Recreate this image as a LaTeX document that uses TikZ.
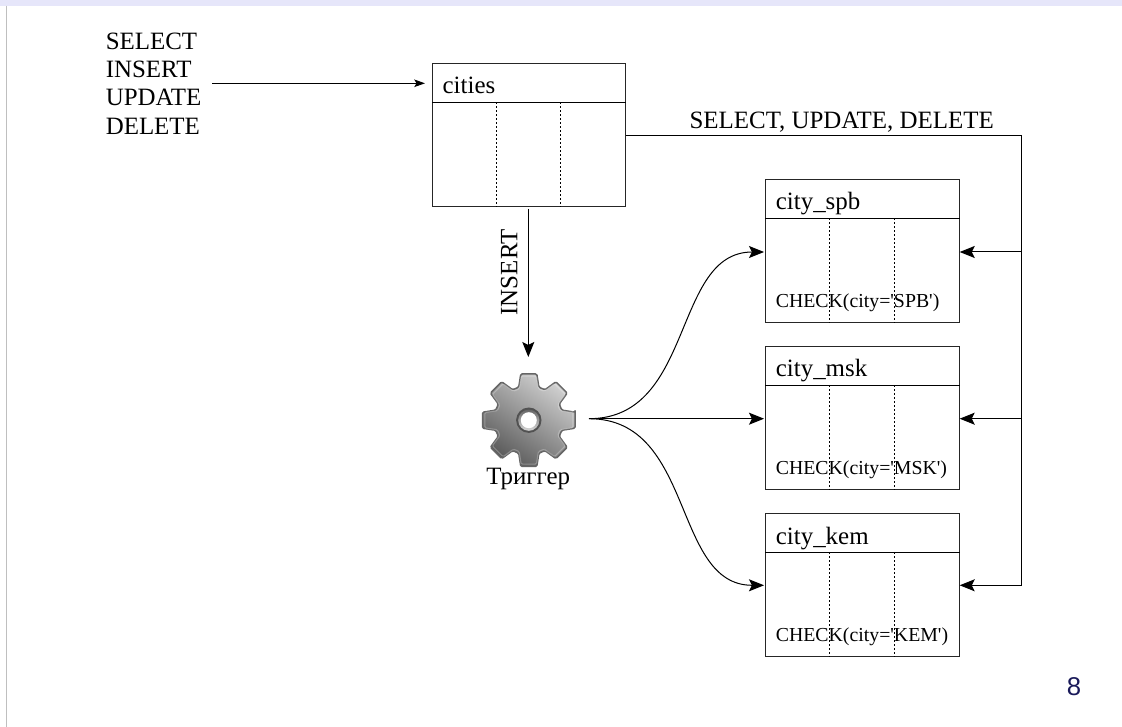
\documentclass[tikz,border=0pt]{standalone}
\usepackage{fontspec}
\setmainfont{Liberation Serif}
\newfontfamily\rawserif{Liberation Serif}
\newfontfamily\pagefont{Liberation Sans}
\usetikzlibrary{arrows.meta,calc}
\definecolor{band}{HTML}{E6E6FA}
\definecolor{pagenum}{HTML}{1A1A5A}
\newcommand{\txtA}{\fontsize{18.7pt}{21.2pt}\selectfont}
\newcommand{\txtB}{\rawserif\fontsize{14.85pt}{17pt}\selectfont}
\tikzset{
  tbl/.style={draw=black!85,line width=0.75pt,minimum width=145.2pt,minimum height=107.25pt,inner sep=0pt,anchor=north west},
  lbl/.style={inner sep=0pt,anchor=base west,font=\txtA},
  chk/.style={inner sep=0pt,anchor=base west,font=\txtB},
  conn/.style={line width=0.75pt,black,-{Stealth[length=11.25pt,width=9pt,inset=2.2pt]}},
  connsmall/.style={line width=0.75pt,black,-{Stealth[length=8pt,width=5.6pt,inset=1.6pt]}},
  plain/.style={line width=0.75pt,black},
  sep/.style={line width=0.75pt,black},
  dots/.style={line width=0.75pt,black,dash pattern=on 1.5pt off 1.5pt},
}
\newcommand{\tblparts}[2]{%
  \draw[sep] ($(#1.north west)+(0,39.3)$) -- ($(#1.north east)+(0,39.3)$);
  \draw[dots] ($(#1.north west)+(64.3,39.3)$) -- ($(#1.south west)+(64.3,0)$);
  \draw[dots] ($(#1.north west)+(129,39.3)$) -- ($(#1.south west)+(129,0)$);
  \node[lbl] at ($(#1.north west)+(10.6,31)$) {#2};
}
\newcommand{\gearpath}[1]{%
  ($(g)+(-9.8:47*#1)$)
  \foreach \a in {0,45,...,315} {
    -- ($(g)+(\a-9.8:47*#1)$)
    -- ($(g)+(\a+9.8:47*#1)$)
    -- ($(g)+(\a+17:34.5*#1)$)
    -- ($(g)+(\a+28:34.5*#1)$)
  } -- cycle
}
\begin{document}
\begin{tikzpicture}[x=0.75pt,y=-0.75pt]
\useasboundingbox (0,0) rectangle (1122,727);
\fill[band] (0,0) rectangle (1122,5.7);
\draw[black!25,line width=0.8pt] (6.5,5.7) -- (6.5,727);

% tables
\node[tbl] (cities) at (431.8,62.8) {};
\node[tbl] (spb) at (765,179) {};
\node[tbl] (msk) at (765,346) {};
\node[tbl] (kem) at (765,513) {};
\tblparts{cities}{cities}
\tblparts{spb}{city\_spb}
\tblparts{msk}{city\_msk}
\tblparts{kem}{city\_kem}
\node[chk] (cspb) at (775.6,307.7) {CHECK(city='SPB')};
\node[chk] (cmsk) at (775.6,474.7) {CHECK(city='MSK')};
\node[chk] (ckem) at (775.6,641.7) {CHECK(city='KEM')};

% statements
\node[inner sep=0pt,anchor=north west,align=left,font=\txtA] (ops) at (105.5,32.5) {SELECT\\INSERT\\UPDATE\\DELETE};
\node[lbl] (upd) at (689.3,128.3) {SELECT, UPDATE, DELETE};

% gear
\coordinate (g) at (528.8,420.2);
\shade[left color=black!18,right color=black!65,shading angle=-35,rounded corners=1pt] \gearpath{1} ;
\draw[black!60,line width=1.1pt,line join=round,rounded corners=1pt] \gearpath{1} ;
\draw[white,opacity=0.25,line width=0.8pt,line join=round,rounded corners=1pt] \gearpath{0.95} ;
\fill[black!68] (g) circle[radius=12.7];
\shade[top color=black!60,bottom color=black!15] (g) circle[radius=10.6];
\fill[white] (g) circle[radius=8];
\node[coordinate] (gin) at (528.3,357) {};
\node[coordinate] (gout) at (589,418.7) {};
\node[font=\txtA,inner sep=0pt,anchor=base] (trig) at (528.2,484) {Триггер};

% connectors
\coordinate (opsout) at (212,83.3);
\coordinate (cin) at (425,83.3);
\draw[connsmall] (opsout) -- (cin);
\coordinate (cbot) at (528.3,209);
\draw[conn] (cbot) -- (gin);
\node[font=\txtA,inner sep=0pt,rotate=90,anchor=base] (ins) at (517.4,272.5) {INSERT};

\coordinate (spbL) at (764,252);
\coordinate (mskL) at (764,418.7);
\coordinate (kemL) at (764,585.3);
\draw[conn] (gout) .. controls (695,418.7) and (672,252) .. (spbL);
\draw[conn] (gout) -- (mskL);
\draw[conn] (gout) .. controls (695,418.7) and (672,585.3) .. (kemL);

\coordinate (cr) at (625.5,135.7);
\coordinate (corner) at (1021.7,135.7);
\coordinate (j1) at (1021.7,252);
\coordinate (j2) at (1021.7,418.7);
\coordinate (j3) at (1021.7,585.3);
\coordinate (spbR) at (959.7,252);
\coordinate (mskR) at (959.7,418.7);
\coordinate (kemR) at (959.7,585.3);
\draw[plain] (cr) -- (corner) -- (j3);
\draw[conn] (j1) -- (spbR);
\draw[conn] (j2) -- (mskR);
\draw[conn] (j3) -- (kemR);

\node[inner sep=0pt,anchor=base,text=pagenum,font=\pagefont\fontsize{19.3pt}{22pt}\selectfont] (pn) at (1074,695.7) {8};
\end{tikzpicture}
\end{document}
